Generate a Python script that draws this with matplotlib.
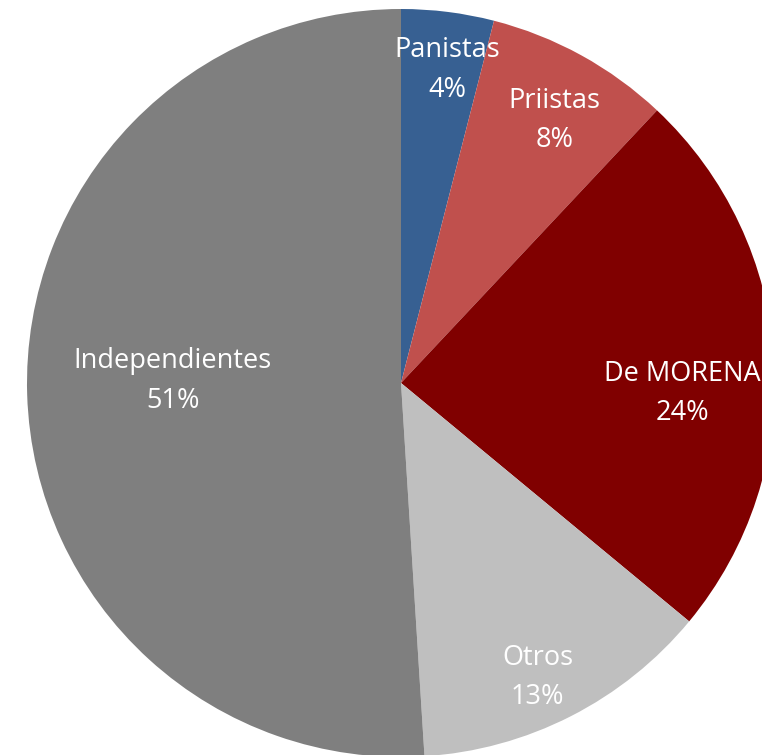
import matplotlib
matplotlib.use("Agg")
import matplotlib.pyplot as plt
import numpy as np

categories = ["Panistas", "Priistas", "De MORENA", "Otros", "Independientes"]
values = [4, 8, 24, 13, 51]
colors = ["#376092", "#C0504D", "#800000", "#BFBFBF", "#7F7F7F"]
# label offsets from centre, in units of radius (x, y)
label_offsets = [(0.123, 0.837), (0.41, 0.702), (0.752, -0.028), (0.365, -0.788), (-0.61, 0.005)]

plt.rcParams['font.family'] = ['Open Sans', 'DejaVu Sans']

W, H = 762, 755
fig = plt.figure(figsize=(W / 100, H / 100), dpi=100)
ax = fig.add_axes([0, 0, 1, 1])
cx, cy, r = 401, H - 383, 374
wedges, _ = ax.pie(values, colors=colors, startangle=90, counterclock=False,
                   center=(cx, cy), radius=r, wedgeprops=dict(linewidth=0))
for cat, v, (ox, oy) in zip(categories, values, label_offsets):
    ax.text(cx + ox * r, cy + oy * r, f"{cat}\n{v}%", ha="center", va="center",
            color="white", fontsize=19.5, linespacing=1.55)
ax.set_xlim(0, W)
ax.set_ylim(0, H)
ax.set_aspect("equal")
ax.axis("off")
fig.savefig("out.png", dpi=100)
